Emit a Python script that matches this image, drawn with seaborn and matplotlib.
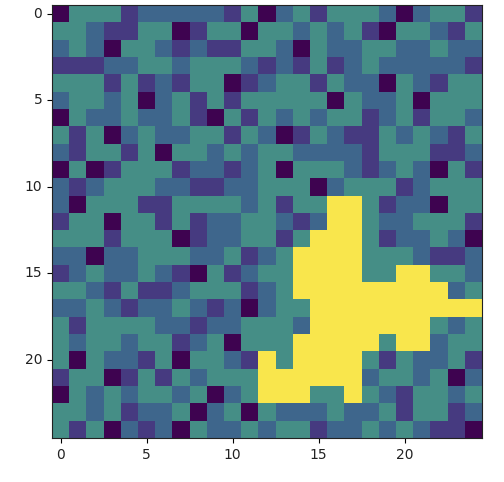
import numpy as np
import pandas as pd
import seaborn as sns
import matplotlib
matplotlib.use("Agg")
import matplotlib.pyplot as plt
from matplotlib.colors import ListedColormap

# Each letter is one cell: D=0, P=1, B=2, G=3, Y=4
grid_rows = [
    "DGGGPBBBBBPGDBGPGGGBDBGGP",
    "GGBPPGGDPGGDGGBGBGPDGGBPG",
    "BGBDGGBPBPPGGBDGBBGGBBGBB",
    "PPPBBGGBGGGBPBPGPBGBBBBBP",
    "GGGPGPBPGGDPBGGPGBBDGBPGG",
    "BGGBGDBGPGPGGGGGDGBBGDGGG",
    "DGBBGBBGPDGPGBGBGGPBGPGGB",
    "GPGDBGBBGGPGBDPGBPPGBGBPG",
    "BPGGPGDGGBGBGGBBBBPGGGPPB",
    "DGDPGGGPBBPBGDGGGBPBGBDGP",
    "BPBGGGBBPPBBGGGDBGGGPBGGG",
    "BDGGGPPGGGGBGPGGYYGPBBDGG",
    "PGGDGGPGPBBGGBPBYYGBBGGGP",
    "GGGPGGGDPBBGGPGYYYGPBBGBD",
    "BBDBBGGGBBGPBGYYYYGGGBPPB",
    "PBGBBGBPDGPBGGYYYYGGYYGGB",
    "GGBPGPPBGGGPBGYYYYYYYYYBG",
    "BBGBPBBGBPBDBGGYYYYYYYYYY",
    "GPGGGGBBPBBGGGBYYYYYYYGBG",
    "GBGGBGGPBGDGGGYYYYYGYYBGG",
    "GDGBBPGDGGBPYGYYYYGPGBBGP",
    "PGGDPGPGBGGGYYYYYYBGGBGDB",
    "DGBGBGGBGDBGYYYGGYGBPGGBG",
    "GGBGPBBGDBGDGBBBGBBGPGGPB",
    "GPGDBPBDGBBGBGGPBBGBGBPPD",
]
level_codes = {"D": 0, "P": 1, "B": 2, "G": 3, "Y": 4}
level_colors = ["#3e0350", "#463a80", "#3e668c", "#458e86", "#f9e64c"]
tick_values = [0, 5, 10, 15, 20]

values = pd.DataFrame([[level_codes[c] for c in row] for row in grid_rows])

fig = plt.figure(figsize=(5.04, 4.82), dpi=100)
ax = fig.add_axes([52 / 504, 1 - 438 / 482, 430 / 504, 433 / 482])
sns.heatmap(values, ax=ax, cmap=ListedColormap(level_colors), vmin=-0.5, vmax=4.5,
            cbar=False, square=False, linewidths=0, rasterized=True)
ax.set_xticks([t + 0.5 for t in tick_values], labels=[str(t) for t in tick_values], rotation=0)
ax.set_yticks([t + 0.5 for t in tick_values], labels=[str(t) for t in tick_values], rotation=0)
ax.tick_params(length=3.5, width=0.8, labelsize=10, color="black", labelcolor="#222222")
ax.set_xlabel("")
ax.set_ylabel("")
for spine in ax.spines.values():
    spine.set_visible(True)
    spine.set_linewidth(0.8)
    spine.set_color("#222222")
fig.savefig("out.png", dpi=100)
